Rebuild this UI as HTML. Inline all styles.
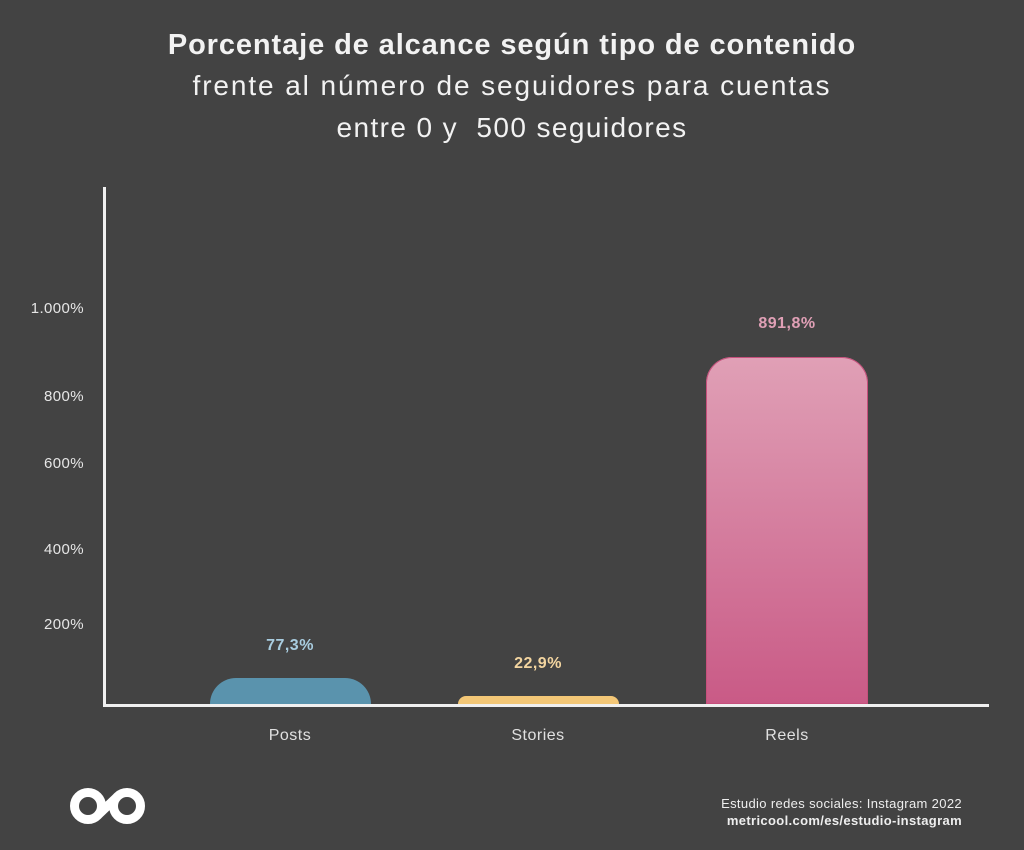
<!DOCTYPE html>
<html><head><meta charset="utf-8"><style>
body{margin:0;width:1024px;height:850px;background:#434343;font-family:"Liberation Sans","DejaVu Sans",sans-serif;position:relative;overflow:hidden;color:#eee}
.t{position:absolute;left:0;width:1024px;text-align:center;color:#f2f2f2;white-space:nowrap}
.a{position:absolute;background:#f0f0f0}
.y{position:absolute;right:940px;font-size:15px;color:#e6e6e6;text-align:right;width:100px;letter-spacing:0.4px}
.bar{position:absolute;border-radius:26px 26px 0 0}
.v{position:absolute;font-size:16px;font-weight:bold;text-align:center;width:160px;letter-spacing:0.5px}
.x{position:absolute;font-size:16px;color:#e0e0e0;text-align:center;width:160px;top:727px;letter-spacing:0.5px}
</style></head><body>
<div class="t" style="top:29px;font-size:29px;font-weight:bold;letter-spacing:0.9px">Porcentaje de alcance según tipo de contenido</div>
<div class="t" style="top:70px;font-size:28px;letter-spacing:1.9px">frente al número de seguidores para cuentas</div>
<div class="t" style="top:112px;font-size:28px;letter-spacing:1.4px">entre 0 y&nbsp; 500 seguidores</div>
<div class="a" style="left:103px;top:187px;width:3px;height:520px"></div>
<div class="a" style="left:103px;top:704px;width:886px;height:3px"></div>
<div class="y" style="top:300px">1.000%</div>
<div class="y" style="top:388px">800%</div>
<div class="y" style="top:455px">600%</div>
<div class="y" style="top:541px">400%</div>
<div class="y" style="top:616px">200%</div>
<div class="bar" style="left:210px;top:678px;width:161px;height:26px;background:#5a93ad"></div>
<div class="bar" style="left:458px;top:696px;width:161px;height:8px;border-radius:10px 10px 0 0;background:#f3c777"></div>
<div class="bar" style="left:706px;top:357px;width:162px;height:347px;background:linear-gradient(#e0a0b6,#c95a86);box-shadow:inset 0 0 0 1px #c6507c"></div>
<div class="v" style="left:210px;top:637px;color:#a9cde0">77,3%</div>
<div class="v" style="left:458px;top:655px;color:#f3d5a0">22,9%</div>
<div class="v" style="left:707px;top:315px;color:#e0a0b6">891,8%</div>
<div class="x" style="left:210px">Posts</div>
<div class="x" style="left:458px">Stories</div>
<div class="x" style="left:707px">Reels</div>
<svg style="position:absolute;left:60px;top:786px" width="90" height="42"><g fill="none" stroke="#fff" stroke-width="9"><circle cx="28" cy="20" r="13.5"/><circle cx="67" cy="20" r="13.5"/><path d="M38 29 L57 11"/></g></svg>
<div style="position:absolute;right:62px;top:795px;font-size:13px;color:#eee;text-align:right;line-height:17px;letter-spacing:0.35px">Estudio redes sociales: Instagram 2022<br><b>metricool.com/es/estudio-instagram</b></div>
</body></html>
